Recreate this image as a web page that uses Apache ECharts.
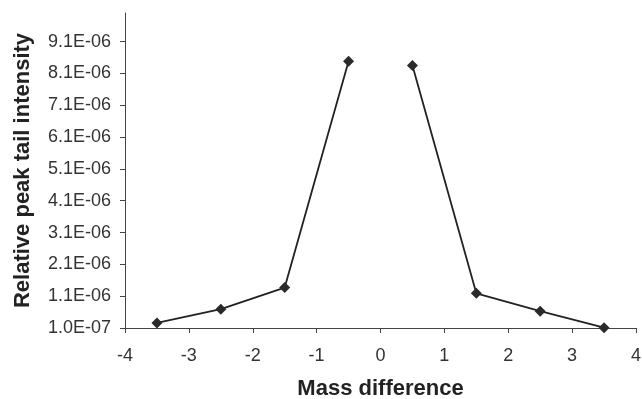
<!DOCTYPE html>
<html>
<head>
<meta charset="utf-8">
<script src="https://cdn.jsdelivr.net/npm/echarts@6/dist/echarts.min.js"></script>
<style>
  html, body { margin: 0; padding: 0; background: #fff; }
  #chart { width: 642px; height: 399px; }
</style>
</head>
<body>
<div id="chart"></div>
<script>
// data
const xValues = [-3.5, -2.5, -1.5, -0.5, 0.5, 1.5, 2.5, 3.5];
const yValues = [2.6e-7, 6.9e-7, 1.37e-6, 8.48e-6, 8.35e-6, 1.19e-6, 6.3e-7, 1.1e-7];
// line is broken between -0.5 and 0.5
const leftCount = 4;
const yTicks = [1e-7, 1.1e-6, 2.1e-6, 3.1e-6, 4.1e-6, 5.1e-6, 6.1e-6, 7.1e-6, 8.1e-6, 9.1e-6];

const points = xValues.map((x, i) => [x, yValues[i]]);

function fmtExp(v) {
    let s = v.toExponential(1).toUpperCase();       // "1.1E-6"
    return s.replace(/E([+-])(\d)$/, 'E$10$2');       // "1.1E-06"
}

const lineStyle = { color: '#222', width: 1.8 };
const itemStyle = { color: '#2a2a2a' };

function makeSeries(data) {
    return {
        type: 'line',
        data: data,
        symbol: 'diamond',
        symbolSize: 11,
        lineStyle: lineStyle,
        itemStyle: itemStyle,
        animation: false
    };
}

const option = {
    backgroundColor: '#fff',
    grid: { left: 125, right: 6, top: 13, bottom: 71, outerBoundsMode: 'none' },
    xAxis: {
        type: 'value',
        min: -4,
        max: 4,
        interval: 1,
        name: 'Mass difference',
        nameLocation: 'middle',
        nameGap: 50,
        nameTextStyle: { fontFamily: 'Liberation Sans', fontWeight: 'bold', fontSize: 22, color: '#222' },
        axisLine: { onZero: false, lineStyle: { color: '#444', width: 1 } },
        axisTick: { show: true, length: 5, lineStyle: { color: '#444' } },
        axisLabel: { fontFamily: 'Liberation Sans', fontSize: 18, color: '#333', margin: 19 },
        splitLine: { show: false }
    },
    yAxis: {
        type: 'value',
        min: 1e-7,
        max: 1e-5,
        name: 'Relative peak tail intensity',
        nameLocation: 'middle',
        nameGap: 91,
        nameTextStyle: { fontFamily: 'Liberation Sans', fontWeight: 'bold', fontSize: 22, color: '#222' },
        axisLine: { show: true, onZero: false, lineStyle: { color: '#444', width: 1 } },
        axisTick: { show: true, length: 5, lineStyle: { color: '#444' }, customValues: yTicks },
        axisLabel: {
            fontFamily: 'Liberation Sans', fontSize: 18, color: '#333', margin: 14,
            customValues: yTicks,
            formatter: fmtExp
        },
        splitLine: { show: false }
    },
    series: [
        makeSeries(points.slice(0, leftCount)),
        makeSeries(points.slice(leftCount))
    ]
};

const chart = echarts.init(document.getElementById('chart'));
chart.setOption(option);
window.addEventListener('resize', function() {
    chart.resize();
});
</script>
</body>
</html>
